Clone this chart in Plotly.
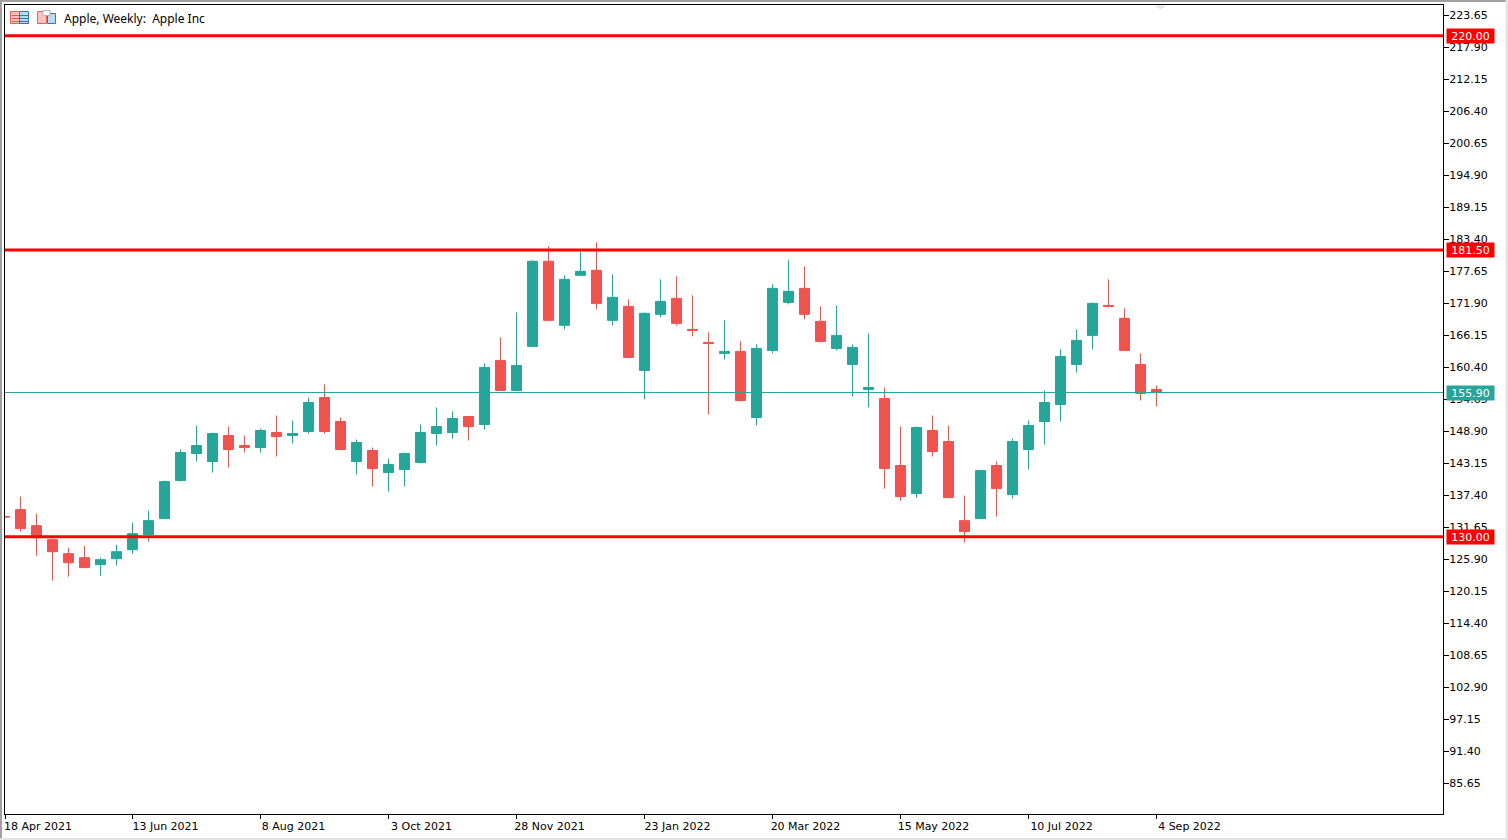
import pandas as pd
import plotly.graph_objects as go

W, H = 1508, 840
L, R, T, B = 5, 1443, 5, 814

dates = pd.date_range("2021-04-18", periods=73, freq="7D")

opens = [133.60,134.86,131.98,129.46,126.94,126.22,124.97,126.04,127.66,130.36,133.24,140.08,144.94,143.50,148.17,146.38,146.02,148.71,148.17,148.89,155.01,150.69,143.50,145.48,
         141.52,142.06,143.32,148.53,148.71,151.59,150.15,161.67,156.27,164.19,179.48,167.97,176.96,177.86,168.87,171.38,159.87,169.95,172.82,167.25,164.91,162.93,163.29,151.41,
         163.47,172.10,174.62,168.69,163.83,160.95,156.45,154.83,142.78,137.74,149.07,147.10,132.88,133.24,142.78,137.56,145.66,150.69,153.75,160.95,166.17,171.56,169.23,160.95,156.45]
highs = [133.60,137.20,134.14,129.64,128.02,128.38,126.22,128.56,132.52,134.68,140.08,145.66,149.97,148.71,149.79,148.17,149.43,151.77,150.87,155.01,157.35,151.41,147.46,146.02,
         144.04,145.12,150.15,153.21,152.49,151.59,161.13,165.81,170.30,179.66,182.18,176.96,181.28,182.90,177.14,172.64,170.30,176.24,176.78,173.36,166.71,168.87,165.09,164.55,
         175.34,179.66,178.58,171.38,171.56,164.55,166.53,156.81,149.79,149.79,151.77,149.97,137.38,141.88,143.50,147.64,150.87,156.27,163.65,167.25,172.10,176.24,171.02,162.93,157.17]
lows = [133.55,130.90,126.58,122.09,122.81,124.43,122.99,124.79,126.94,129.10,133.24,139.90,143.50,141.52,142.42,145.12,145.12,144.40,146.74,148.53,148.53,145.66,141.16,139.00,
        138.10,139.00,143.14,146.38,147.64,147.28,149.25,156.27,156.27,164.19,168.87,167.25,176.96,170.84,167.97,162.21,154.65,169.41,167.97,165.99,151.95,161.85,154.29,149.97,
        162.93,171.74,169.05,164.91,163.47,155.19,153.21,138.64,136.48,137.02,144.40,137.02,128.92,133.24,133.60,136.84,142.06,146.56,150.69,159.51,163.65,171.20,163.47,154.47,153.39]
closes = [133.55,131.44,129.82,127.30,125.32,124.43,125.86,127.30,130.54,132.88,139.90,145.12,146.38,148.53,145.66,146.02,149.07,147.99,148.53,154.11,148.89,145.66,146.92,142.24,
          142.96,144.94,148.71,149.79,151.23,149.79,160.41,156.27,160.77,179.48,168.87,176.24,177.68,171.92,173.00,162.21,170.13,172.28,168.33,167.07,164.73,163.29,154.47,163.83,
          174.62,174.08,169.95,165.09,166.17,164.01,156.81,142.24,137.20,149.61,145.30,137.02,130.90,141.88,138.64,147.10,149.97,154.11,162.39,165.27,171.92,171.38,163.47,155.73,155.90]

level_values = [220.00, 181.50, 130.00]
last_price = 155.90
y_ticks = [85.65,91.40,97.15,102.90,108.65,114.40,120.15,125.90,131.65,137.40,143.15,148.90,154.65,
           160.40,166.15,171.90,177.65,183.40,189.15,194.90,200.65,206.40,212.15,217.90,223.65]
x_range = ["2021-04-18 05:15", "2023-01-07 08:15"]
x_tick_dates = ["2021-04-18 05:15","2021-06-13","2021-08-08","2021-10-03","2021-11-28","2022-01-23","2022-03-20","2022-05-15","2022-07-10","2022-09-04"]
x_tick_labels = ["18 Apr 2021","13 Jun 2021","8 Aug 2021","3 Oct 2021","28 Nov 2021","23 Jan 2022","20 Mar 2022","15 May 2022","10 Jul 2022","4 Sep 2022"]
title_text = "Apple, Weekly:  Apple Inc"

TEAL, RED = "#26a69a", "#ef5350"
FONT = "DejaVu Sans"

def px(x):
    return (x - L) / (R - L)
def py(y):
    return (B - y) / (B - T)

def rect(x0, y0, x1, y1, fill=None, line=None, lw=1):
    return dict(type="rect", xref="paper", yref="paper", x0=px(x0), x1=px(x1), y0=py(y0), y1=py(y1),
                fillcolor=fill or "rgba(0,0,0,0)", line=dict(color=line or "rgba(0,0,0,0)", width=lw if line else 0), layer="above")

fig = go.Figure(go.Candlestick(
    x=dates, open=opens, high=highs, low=lows, close=closes,
    whiskerwidth=0,
    increasing=dict(line=dict(color=TEAL, width=1), fillcolor=TEAL),
    decreasing=dict(line=dict(color=RED, width=1), fillcolor=RED),
    showlegend=False,
))

shapes = []
for v in level_values:
    shapes.append(dict(type="line", xref="paper", yref="y", x0=0, x1=1, y0=v, y1=v, line=dict(color="#ff0000", width=3), layer="above"))
shapes.append(dict(type="line", xref="paper", yref="y", x0=0, x1=1, y0=last_price, y1=last_price, line=dict(color=TEAL, width=1), layer="above"))

# window frame
shapes += [
    rect(0, 0, W, 2, fill="#a0a0a0"),
    rect(0, 0, 2, H, fill="#a0a0a0"),
    rect(W - 2.5, 0, W, H, fill="#e4e4e4"),
    rect(0, H - 2, W, H, fill="#e4e4e4"),
]
# toolbar icons
shapes += [
    rect(10.5, 11.5, 19.5, 23.5, fill="#fbc4be", line="#ee5f56"),
    rect(19.5, 11.5, 28.5, 23.5, fill="#bcd9f2", line="#2f78b8"),
    rect(12, 15, 19, 16, fill="#e8564c"), rect(12, 18, 19, 19, fill="#e8564c"), rect(12, 21, 19, 22, fill="#e8564c"),
    rect(20, 15, 28, 16, fill="#2f78b8"), rect(20, 18, 28, 19, fill="#2f78b8"), rect(20, 21, 28, 22, fill="#2f78b8"),
    rect(37.5, 11.5, 46.5, 23.5, fill="#fbc4be", line="#ee5f56"),
    rect(47.5, 13.5, 55.5, 23.5, fill="#bcd9f2", line="#2f78b8"),
    rect(43, 10.5, 50, 15.5, fill="#ffffff", line="#b5b5b5"),
]
# chart-shift marker
shapes.append(dict(type="path", xref="paper", yref="paper",
                   path=f"M {px(1155)} {py(5.5)} L {px(1166)} {py(5.5)} L {px(1160.5)} {py(10)} Z",
                   fillcolor="#e6e6e6", line=dict(width=0), layer="above"))

annotations = [dict(xref="paper", yref="paper", x=px(62), y=py(18.5), xanchor="left", yanchor="middle",
                    text=title_text, showarrow=False, font=dict(family="Noto Sans", size=12, color="#000000"))]
for v, col in [(220.00, "#ff0000"), (181.50, "#ff0000"), (130.00, "#ff0000"), (last_price, TEAL)]:
    annotations.append(dict(xref="paper", yref="y", x=px(1446), y=v, xanchor="left", yanchor="middle",
                            text=f"{v:.2f}", showarrow=False, bgcolor=col, width=45, height=12,
                            borderpad=1, font=dict(family=FONT, size=11, color="#ffffff")))

fig.update_layout(
    width=W, height=H, margin=dict(l=L, r=W - R, t=T, b=H - B, autoexpand=False),
    paper_bgcolor="#ffffff", plot_bgcolor="#ffffff", boxgap=0.3, boxgroupgap=0.1,
    shapes=shapes, annotations=annotations, showlegend=False,
    font=dict(family=FONT, size=11, color="#000000"),
    xaxis=dict(type="date", range=x_range, rangeslider=dict(visible=False),
               tickmode="array", tickvals=x_tick_dates, ticktext=x_tick_labels, showgrid=False, zeroline=False,
               ticks="outside", ticklen=4, tickwidth=1, tickcolor="#000000", showline=True, linecolor="#000000",
               linewidth=1, mirror=True, tickangle=0, ticklabelshift=33, ticklabelstandoff=-2,
               tickfont=dict(family=FONT, size=11, color="#000000")),
    yaxis=dict(side="right", range=[80.16, 225.54], tickmode="array", tickvals=y_ticks,
               ticktext=[f"{v:.2f}" for v in y_ticks], showgrid=False, zeroline=False,
               ticks="outside", ticklen=5, tickwidth=1, tickcolor="#000000", showline=True, linecolor="#000000",
               linewidth=1, mirror=True, ticklabelstandoff=-2, tickfont=dict(family=FONT, size=11, color="#000000")),
)
fig.write_html("out.html", config=dict(displayModeBar=False),
               post_script="document.body.style.margin='0';document.documentElement.style.overflow='hidden';")
